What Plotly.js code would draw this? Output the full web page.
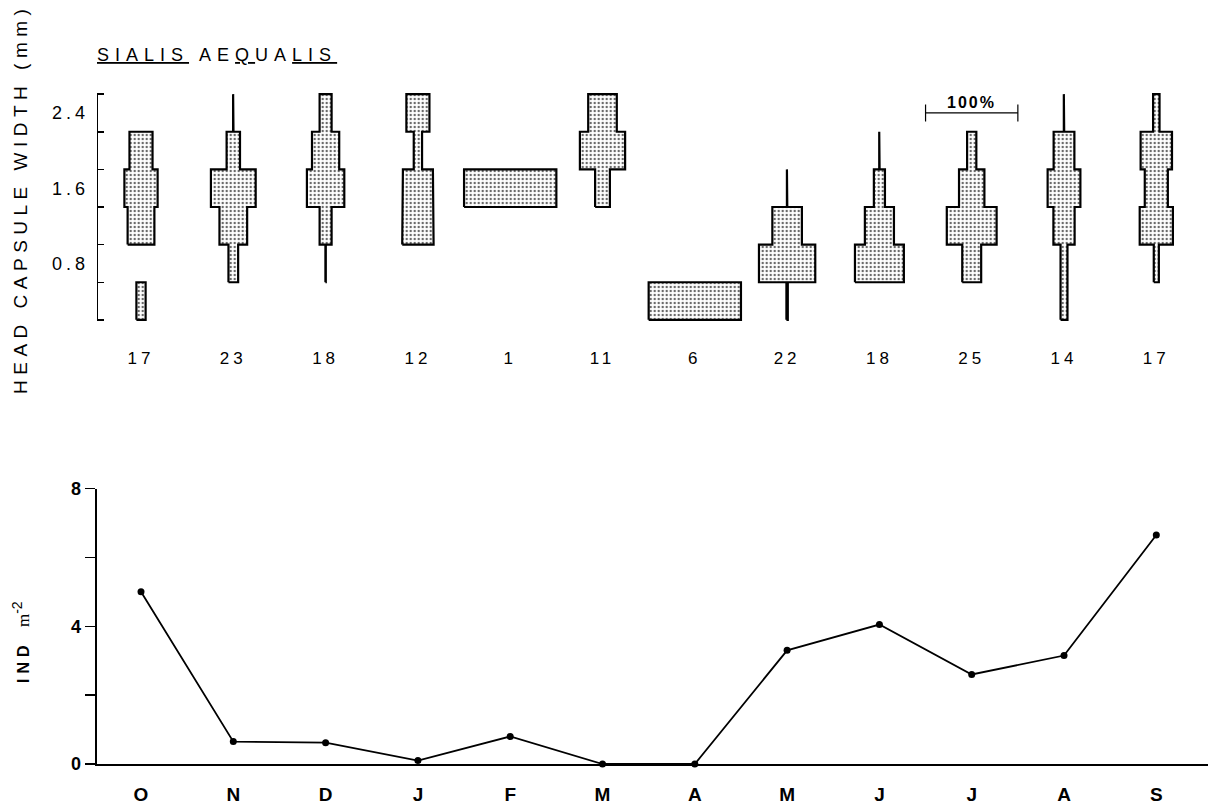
<!DOCTYPE html>
<html>
<head>
<meta charset="utf-8">
<script src="https://cdn.plot.ly/plotly-3.0.1.min.js"></script>
<style>
  html, body { margin: 0; padding: 0; background: #fff; }
  #chart { width: 1213px; height: 806px; }
</style>
</head>
<body>
<div id="chart"></div>
<script>
// ---------- data ----------
const months = ['O','N','D','J','F','M','A','M','J','J','A','S'];
const sampleCounts = [17, 23, 18, 12, 1, 11, 6, 22, 18, 25, 14, 17];
const densityPerM2 = [5.0, 0.65, 0.62, 0.1, 0.8, 0, 0, 3.3, 4.05, 2.6, 3.15, 6.65];

// head capsule width classes (mm): class mid-points, class width 0.4 mm
const sizeClassMid = [0.4, 0.8, 1.2, 1.6, 2.0, 2.4];
const sizeClassWidth = 0.4;
const sizeTickLabels = [0.8, 1.6, 2.4];

// percentage of the monthly sample in each size class (bottom -> top)
const pctOct = [10, 0, 29, 36, 25, 0];
const pctNov = [0, 10.5, 30, 48.5, 14.5, 0.4];
const pctDec = [0, 0.4, 13, 40.5, 29.5, 13];
const pctJan = [0, 0, 34, 32.5, 9, 25];
const pctFeb = [0, 0, 0, 100, 0, 0];
const pctMar = [0, 0, 0, 16, 49, 31];
const pctApr = [100, 0, 0, 0, 0, 0];
const pctMay = [1.5, 61, 32, 0.4, 0, 0];
const pctJun = [0, 53, 31.5, 12, 0.4, 0];
const pctJul = [0, 20.5, 54, 27.5, 10, 0];
const pctAug = [7.5, 7.5, 23, 35.5, 22.5, 0.4];
const pctSep = [0, 5.5, 36, 25, 34, 7];

// 100 % scale bar
const scaleBarPct = 100;
const scaleBarMonth = 9;
const scaleBarSize = 2.4;

// ---------- build ----------
const monthPct = [pctOct, pctNov, pctDec, pctJan, pctFeb, pctMar, pctApr, pctMay, pctJun, pctJul, pctAug, pctSep];
const monthIdx = months.map((m, i) => i);

const kx = [], ky = [];
monthPct.forEach((pct, i) => {
  let k = 0;
  while (k < pct.length) {
    if (pct[k] > 0) {
      const run = [];
      while (k < pct.length && pct[k] > 0) { run.push(k); k++; }
      const lx = [], ly = [];
      run.forEach(j => {
        const h = pct[j] / 200;
        const lo = sizeClassMid[j] - sizeClassWidth / 2, hi = sizeClassMid[j] + sizeClassWidth / 2;
        lx.push(i - h, i - h); ly.push(lo, hi);
      });
      run.slice().reverse().forEach(j => {
        const h = pct[j] / 200;
        const lo = sizeClassMid[j] - sizeClassWidth / 2, hi = sizeClassMid[j] + sizeClassWidth / 2;
        lx.push(i + h, i + h); ly.push(hi, lo);
      });
      lx.push(lx[0]); ly.push(ly[0]);
      kx.push(...lx, null); ky.push(...ly, null);
    } else k++;
  }
});

const sbH = scaleBarPct / 200;
const sbTick = 0.09;

const font = '"Liberation Sans", Arial, sans-serif';
const sp = (t, s) => '<span style="letter-spacing:' + s + 'px">' + t + '</span>';

const classEdges = sizeClassMid.map(v => +(v - sizeClassWidth / 2).toFixed(2))
  .concat([+(sizeClassMid[sizeClassMid.length - 1] + sizeClassWidth / 2).toFixed(2)]);
const sizeRange = [classEdges[0] - 0.012, classEdges[classEdges.length - 1] + 0.012];

const traces = [
  {
    x: kx, y: ky, xaxis: 'x', yaxis: 'y', type: 'scatter', mode: 'lines',
    fill: 'toself', fillcolor: 'white',
    fillpattern: { shape: '.', fgcolor: '#666', bgcolor: 'white', size: 4, solidity: 0.28 },
    line: { color: 'black', width: 2.2 }, hoverinfo: 'skip', showlegend: false
  },
  {
    x: [scaleBarMonth - sbH, scaleBarMonth - sbH, null, scaleBarMonth - sbH, scaleBarMonth + sbH, null, scaleBarMonth + sbH, scaleBarMonth + sbH],
    y: [scaleBarSize - sbTick, scaleBarSize + sbTick, null, scaleBarSize, scaleBarSize, null, scaleBarSize - sbTick, scaleBarSize + sbTick],
    xaxis: 'x', yaxis: 'y', type: 'scatter', mode: 'lines',
    line: { color: 'black', width: 1.2 }, hoverinfo: 'skip', showlegend: false
  },
  {
    // invisible helper so the bracket axis (y3) gets drawn
    x: [0], y: [1.4], xaxis: 'x', yaxis: 'y3', type: 'scatter', mode: 'markers',
    marker: { opacity: 0 }, hoverinfo: 'skip', showlegend: false
  },
  {
    x: monthIdx, y: densityPerM2, xaxis: 'x2', yaxis: 'y2', type: 'scatter', mode: 'lines+markers',
    line: { color: 'black', width: 1.8 }, marker: { color: 'black', size: 7 },
    cliponaxis: false, showlegend: false
  }
];

const W = 1213, H = 806;
const xDomain = [96.7 / W, 1208 / W];
const xRange = [-0.48, 11.56];
const topDomain = [(H - 321) / H, (H - 93) / H];

const layout = {
  width: W, height: H,
  margin: { l: 0, r: 0, t: 0, b: 0 },
  paper_bgcolor: 'white', plot_bgcolor: 'rgba(0,0,0,0)',
  font: { family: font, color: 'black' },
  showlegend: false,
  xaxis: {
    domain: xDomain, range: xRange, anchor: 'y',
    showline: false, showgrid: false, zeroline: false,
    tickmode: 'array', tickvals: monthIdx, ticktext: sampleCounts.map(c => sp(String(c), 4)),
    ticks: 'outside', ticklen: 22, tickcolor: 'rgba(0,0,0,0)',
    tickfont: { size: 17, family: font, color: 'black' }
  },
  yaxis: {
    domain: topDomain, range: sizeRange, anchor: 'x',
    showline: false, showgrid: false, zeroline: false,
    tickmode: 'array', tickvals: sizeTickLabels, ticktext: sizeTickLabels.map(v => sp(v.toFixed(1), 4)),
    ticks: 'outside', ticklen: 3, tickcolor: 'rgba(0,0,0,0)',
    tickfont: { size: 18, family: font, color: 'black' }
  },
  yaxis3: {
    overlaying: 'y', anchor: 'free', position: xDomain[0], side: 'right', range: sizeRange,
    showline: true, linecolor: 'black', linewidth: 1.5,
    showgrid: false, zeroline: false, showticklabels: false,
    tickmode: 'array', tickvals: classEdges,
    ticks: 'outside', ticklen: 6, tickwidth: 1.5, tickcolor: 'black'
  },
  xaxis2: {
    domain: xDomain, range: xRange, anchor: 'y2',
    showline: true, linecolor: 'black', linewidth: 2,
    showgrid: false, zeroline: false,
    tickmode: 'array', tickvals: monthIdx, ticktext: months,
    ticks: 'outside', ticklen: 12, tickcolor: 'rgba(0,0,0,0)',
    tickfont: { size: 19, family: font, color: 'black', weight: 'bold' }
  },
  yaxis2: {
    domain: [(H - 764) / H, (H - 488.5) / H], range: [0, 8], anchor: 'x2',
    showline: true, linecolor: 'black', linewidth: 2,
    showgrid: false, zeroline: false,
    tickmode: 'array', tickvals: [0, 2, 4, 6, 8], ticktext: ['0', '', '4', '', '8'],
    ticks: 'outside', ticklen: 10, tickwidth: 1.5, tickcolor: 'black',
    tickfont: { size: 18, family: font, color: 'black', weight: 'bold' }
  },
  annotations: [
    {
      xref: 'paper', yref: 'paper', x: 95 / W, y: (H - 55) / H, xanchor: 'left', yanchor: 'middle',
      text: sp('<u>SIALIS</u> AE<u>Q</u>UA<u>LIS</u>', 6), showarrow: false,
      font: { size: 18, family: font, color: 'black' }
    },
    {
      xref: 'paper', yref: 'paper', x: 20 / W, y: (H - 199) / H, xanchor: 'center', yanchor: 'middle',
      textangle: -90, text: sp('HEAD CAPSULE WIDTH (mm)', 5.5), showarrow: false,
      font: { size: 19, family: font, color: 'black' }
    },
    {
      xref: 'paper', yref: 'paper', x: 21 / W, y: (H - 642) / H, xanchor: 'center', yanchor: 'middle',
      textangle: -90,
      text: '<b>' + sp('IND', 5) + '</b>   <span style="font-family:\'Liberation Serif\', serif;font-size:17px">m</span><sup><span style="font-size:14px">-2</span></sup>',
      showarrow: false,
      font: { size: 16, family: font, color: 'black' }
    },
    {
      xref: 'x', yref: 'y', x: scaleBarMonth, y: scaleBarSize, xanchor: 'center', yanchor: 'bottom',
      yshift: 0, text: '<b>' + sp(scaleBarPct + '%', 2) + '</b>', showarrow: false,
      font: { size: 16, family: font, color: 'black' }
    }
  ]
};

Plotly.newPlot('chart', traces, layout, { displayModeBar: false, staticPlot: true });
</script>
</body>
</html>
